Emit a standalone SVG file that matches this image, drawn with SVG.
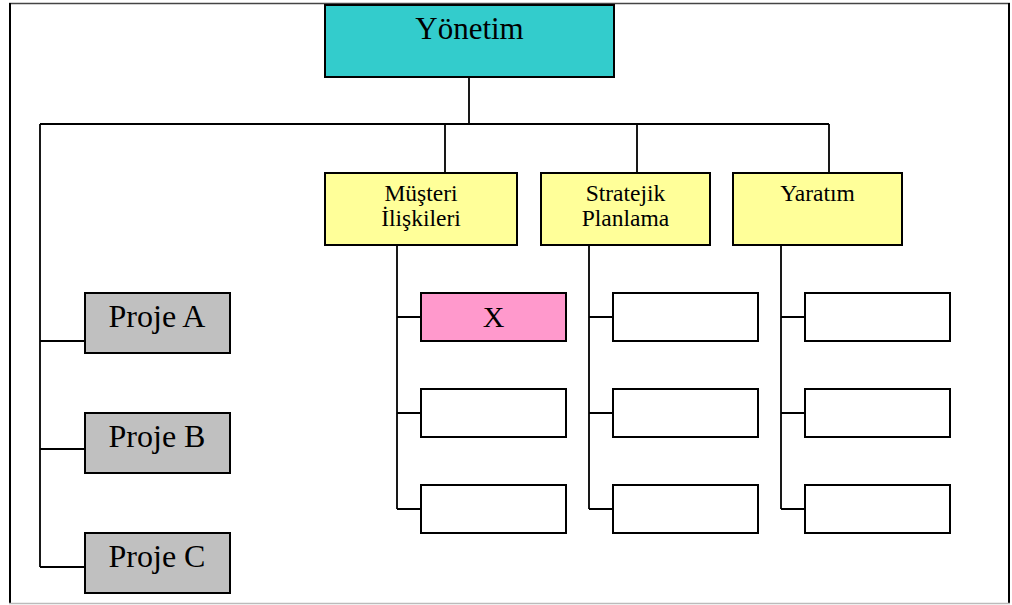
<svg xmlns="http://www.w3.org/2000/svg" width="1012" height="605" viewBox="0 0 1012 605">
<style>
.box{stroke:#000;stroke-width:2}
.t{font-family:'Liberation Serif','Times New Roman',Tinos,'DejaVu Serif','Noto Serif',serif;fill:#000;text-anchor:middle}
.big{font-size:31px}
.pj{font-size:32px}
.mid{font-size:23.5px}
.ln{fill:none;stroke:#000;stroke-width:1.8}
.w{fill:#fff}
</style>
<rect x="0" y="0" width="1012" height="605" fill="#fff"/>
<g id="frame">
<line x1="9" y1="3.5" x2="1010" y2="3.5" stroke="#444" stroke-width="1.5"/>
<line x1="10" y1="3" x2="10" y2="604" stroke="#000" stroke-width="2"/>
<line x1="1009" y1="3" x2="1009" y2="604" stroke="#000" stroke-width="2"/>
<line x1="9" y1="603.5" x2="1010" y2="603.5" stroke="#bbb" stroke-width="1.5"/>
</g>
<g id="connectors">
<path class="ln" d="M469,77 V124 M40,124 H829 M40,124 V567 M40,341 H85 M40,449 H85 M40,567 H85 M445,124 V173 M637,124 V173 M829,124 V173"/>
<path class="ln" d="M397,245 V509 M589,245 V509 M781,245 V509 M397,317 H421 M397,413 H421 M397,509 H421 M589,317 H613 M589,413 H613 M589,509 H613 M781,317 H805 M781,413 H805 M781,509 H805"/>
</g>
<g id="yonetim"><rect class="box" x="325" y="5" width="289" height="72" fill="#33CCCC"/><text class="t big" x="469.5" y="39">Yönetim</text></g>
<g id="musteri"><rect class="box" x="325" y="173" width="192" height="72" fill="#FFFF99"/><text class="t mid" x="421" y="201">Müşteri</text><text class="t mid" x="421" y="226">İlişkileri</text></g>
<g id="stratejik"><rect class="box" x="541" y="173" width="169" height="72" fill="#FFFF99"/><text class="t mid" x="625.5" y="201">Stratejik</text><text class="t mid" x="625.5" y="226">Planlama</text></g>
<g id="yaratim"><rect class="box" x="733" y="173" width="169" height="72" fill="#FFFF99"/><text class="t mid" x="817.5" y="201">Yaratım</text></g>
<g id="projeA"><rect class="box" x="85" y="293" width="145" height="60" fill="#C0C0C0"/><text class="t pj" x="157" y="327">Proje A</text></g>
<g id="projeB"><rect class="box" x="85" y="413" width="145" height="60" fill="#C0C0C0"/><text class="t pj" x="157" y="447">Proje B</text></g>
<g id="projeC"><rect class="box" x="85" y="533" width="145" height="60" fill="#C0C0C0"/><text class="t pj" x="157" y="567">Proje C</text></g>
<g id="x"><rect class="box" x="421" y="293" width="145" height="48" fill="#FF99CC"/><text class="t" font-size="30" x="493.5" y="327">X</text></g>
<g id="m2"><rect class="box w" x="421" y="389" width="145" height="48"/></g>
<g id="m3"><rect class="box w" x="421" y="485" width="145" height="48"/></g>
<g id="s1"><rect class="box w" x="613" y="293" width="145" height="48"/></g>
<g id="s2"><rect class="box w" x="613" y="389" width="145" height="48"/></g>
<g id="s3"><rect class="box w" x="613" y="485" width="145" height="48"/></g>
<g id="y1"><rect class="box w" x="805" y="293" width="145" height="48"/></g>
<g id="y2"><rect class="box w" x="805" y="389" width="145" height="48"/></g>
<g id="y3"><rect class="box w" x="805" y="485" width="145" height="48"/></g>
</svg>
